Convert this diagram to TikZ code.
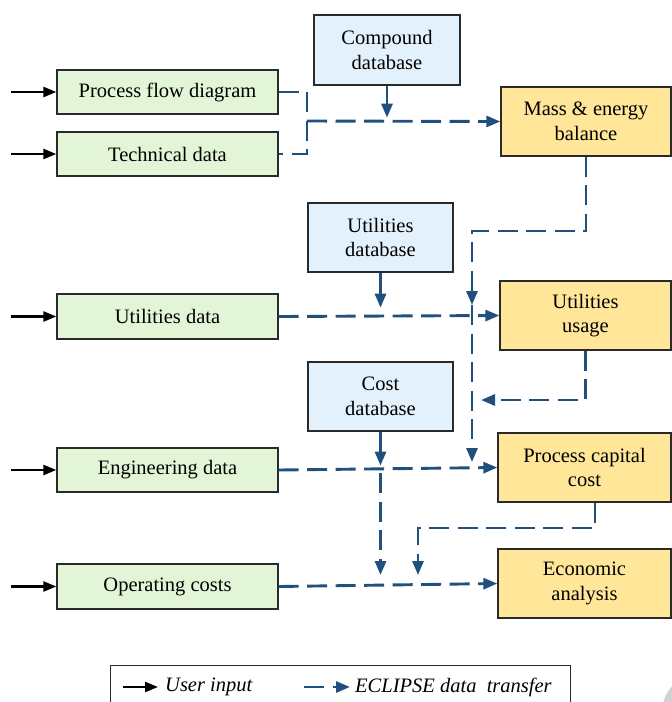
\documentclass[tikz,border=0pt]{standalone}
\usepackage{fontspec}
\setmainfont{Liberation Serif}
\usetikzlibrary{arrows.meta}
\definecolor{inputgreen}{HTML}{E2F5D6}
\definecolor{dbblue}{HTML}{E3F1FC}
\definecolor{calcorange}{HTML}{FFE699}
\definecolor{flowblue}{HTML}{21507F}
\definecolor{boxline}{HTML}{2A2A2A}
\tikzset{
  box/.style={draw=boxline, line width=1.3pt, align=center, inner sep=0pt,
    font=\fontsize{20.5}{24.5}\selectfont},
  inbox/.style={box, fill=inputgreen, minimum width=221pt, minimum height=44pt},
  dbbox/.style={box, fill=dbblue, minimum width=145pt, minimum height=69pt},
  calcbox/.style={box, fill=calcorange, minimum width=171pt, minimum height=69pt},
  userin/.style={line width=2.4pt, black, -{Triangle[length=13pt,width=10pt]}},
  dataflow/.style={line width=2.9pt, flowblue, dash pattern=on 20pt off 8.5pt},
  dataarrow/.style={dataflow, -{Triangle[length=14pt,width=11pt]}},
  dbarrow/.style={line width=2.9pt, flowblue, -{Triangle[length=14pt,width=11pt]}},
  legendtext/.style={anchor=west, inner sep=0pt, font=\fontsize{20.5}{24.5}\selectfont\itshape}
}
\begin{document}
\begin{tikzpicture}[x=1pt,y=-1pt]
\useasboundingbox (0,0) rectangle (672,702);
\fill[white] (0,0) rectangle (672,702);

% user supplied inputs
\node[inbox] (pfd)  at (167.5,92)    {Process flow diagram};
\node[inbox] (tech) at (167.5,154)   {Technical data};
\node[inbox, minimum height=45pt] (udata) at (167.5,316.5) {Utilities data};
\node[inbox] (eng)  at (167.5,470)   {Engineering data};
\node[inbox, minimum height=45pt] (opc)  at (167.5,586.5) {Operating costs};

% databases
\node[dbbox, minimum width=146pt, minimum height=70pt] (cdb) at (387,50) {Compound\\database};
\node[dbbox] (udb) at (380.5,237.5) {Utilities\\database};
\node[dbbox] (kdb) at (380.5,396.5) {Cost\\database};

% calculation modules
\node[calcbox, minimum width=170pt] (mass) at (586,121.5) {Mass \& energy\\balance};
\node[calcbox] (uuse) at (585.5,315.5) {Utilities\\usage};
\node[calcbox, minimum width=173pt] (cap) at (584.5,467.5) {Process capital\\cost};
\node[calcbox, minimum width=173pt] (econ) at (584.5,583.5) {Economic\\analysis};

% input arrows
\foreach \n/\y in {pfd/92, tech/154, udata/316.5, eng/470, opc/586.5}{
  \coordinate (in-\n) at (11,\y);
  \draw[userin] (in-\n) -- (\n.west);
}

% junction points of the data transfer lines
\coordinate (j1) at (307,121);
\coordinate (m1) at (472,231);
\coordinate (m2) at (472,305);
\coordinate (m3) at (472,462);
\coordinate (u1) at (481,400);
\coordinate (c1) at (595,528);
\coordinate (c2) at (418,528);
\coordinate (c3) at (418,575);
\coordinate (k1) at (380.5,473);
\coordinate (k2) at (380.5,575);

% flowsheet and technical data to mass & energy balance
\draw[dataflow] (pfd.east) -- (pfd.east -| j1) |- (tech.east);
\draw[dataarrow] (j1) -- (mass.west);
\draw[dbarrow] (cdb.south) -- ++(0,32);

% mass & energy balance down to utilities and capital cost
\draw[dataarrow] (mass.south) |- (m1) -- (m2);
\draw[dataarrow] (m2) -- (m3);

% utilities
\draw[dbarrow] (udb.south) -- ++(0,35);
\draw[dataarrow] (udata.east) -- (uuse.west);
\draw[dataarrow] (uuse.south) |- (u1);

% capital cost
\draw[dbarrow] (kdb.south) -- ++(0,34);
\draw[dataarrow] (eng.east) -- (cap.west);
\draw[dataarrow] (k1) -- (k2);
\draw[dataarrow] (cap.south -| c1) |- (c2) -- (c3);

% economics
\draw[dataarrow] (opc.east) -- (econ.west);

% legend
\node[draw=boxline, line width=1pt, minimum width=460pt, minimum height=60pt, inner sep=0pt]
  (legend) at (340,695) {};
\coordinate (la1) at (123,687);
\coordinate (la2) at (158,687);
\draw[userin] (la1) -- (la2);
\node[legendtext] (lt1) at (165,687) {User input};
\coordinate (lb1) at (304,687);
\coordinate (lb2) at (350,687);
\draw[dataarrow] (lb1) -- (lb2);
\node[legendtext] (lt2) at (355,687) {ECLIPSE data\ \ transfer};

% grey shape in the lower right corner
\fill[black!18] (700,712) circle (38);
\end{tikzpicture}
\end{document}
